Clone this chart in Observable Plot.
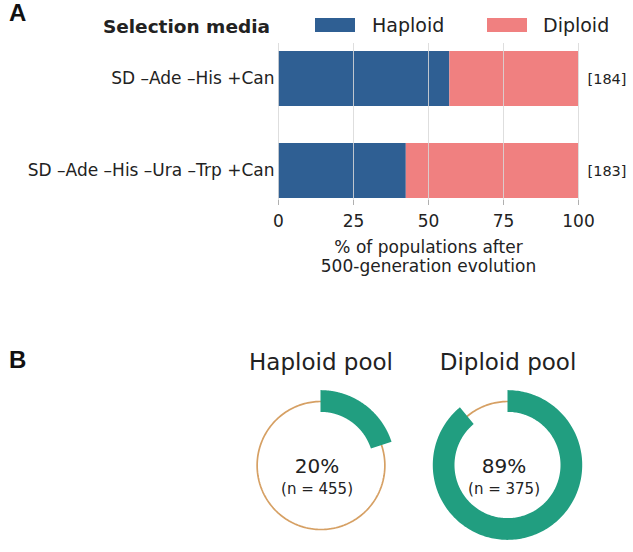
<!DOCTYPE html>
<html>
<head>
<meta charset="utf-8">
<script src="https://cdn.jsdelivr.net/npm/d3@7"></script>
<script src="https://cdn.jsdelivr.net/npm/@observablehq/plot@0.6"></script>
<style>
  html, body { margin: 0; padding: 0; background: #fff; }
  #wrap { position: relative; width: 633px; height: 552px; background: #fff; overflow: hidden; font-family: "DejaVu Sans", sans-serif; color: #222; }
  .abs { position: absolute; white-space: nowrap; }
  .panel { font-family: "Liberation Sans", Arial, sans-serif; font-weight: bold; font-size: 24px; line-height: 24px; color: #111; }
</style>
</head>
<body>
<div id="wrap"></div>
<script>
// ---------- data ----------
const media = ["SD –Ade –His +Can", "SD –Ade –His –Ura –Trp +Can"];
const ploidy = ["Haploid", "Diploid"];
const haploidPct = [57.1, 42.6];
const diploidPct = [42.9, 57.4];
const counts = [184, 183];
const xTicks = [0, 25, 50, 75, 100];
const axisTitle = "% of populations after\n500-generation evolution";
const legendTitle = "Selection media";

const pools = ["Haploid pool", "Diploid pool"];
const poolPct = [20, 89];
const poolN = [455, 375];

// ---------- styles ----------
const ploidyColors = ["#2f5f93", "#f08080"];
const ringColor = "#219e80";
const circleColor = "#d6a064";
const textColor = "#222";

const wrap = document.getElementById("wrap");

// ---------- Panel A ----------
const rowsA = media.flatMap((m, i) => [
  {media: m, type: ploidy[0], value: haploidPct[i]},
  {media: m, type: ploidy[1], value: diploidPct[i]}
]);
const countRows = media.map((m, i) => ({media: m, label: `[${counts[i]}]`}));

const plotA = Plot.plot({
  width: 633, height: 290,
  marginLeft: 278, marginRight: 55, marginTop: 43, marginBottom: 90,
  style: {fontFamily: "DejaVu Sans", fontSize: "17px", color: textColor, background: "transparent", overflow: "visible"},
  x: {domain: [0, 100], axis: null},
  y: {domain: media, axis: null, paddingInner: 0.397, paddingOuter: 0, insetTop: 7, insetBottom: 1},
  color: {domain: ploidy, range: ploidyColors},
  marks: [
    Plot.barX(rowsA, Plot.stackX({x: "value", y: "media", fill: "type"})),
    Plot.gridX(xTicks, {stroke: "#d8d8d8", strokeOpacity: 0.85, strokeWidth: 1}),
    Plot.axisX(xTicks, {tickSize: 5, tickPadding: 9, stroke: "#b0b0b0", fill: textColor, fontSize: 17, label: null}),
    Plot.axisY({tickSize: 0, tickPadding: 4, fill: textColor, fontSize: 17, label: null}),
    Plot.text(countRows, {y: "media", text: "label", frameAnchor: "right", dx: 9, textAnchor: "start", fontSize: 14.5, fill: textColor}),
    Plot.text([axisTitle], {text: d => d, frameAnchor: "bottom", lineAnchor: "middle", dy: 56, lineHeight: 1.08, fontSize: 17, fill: textColor})
  ]
});
plotA.style.position = "absolute";
plotA.style.left = "0px";
plotA.style.top = "0px";
wrap.appendChild(plotA);

// legend (HTML, above panel A)
function addDiv(html, css, cls = "abs") {
  const d = document.createElement("div");
  d.className = cls;
  d.innerHTML = html;
  Object.assign(d.style, css);
  wrap.appendChild(d);
  return d;
}
addDiv(legendTitle, {right: "363px", top: "17px", fontWeight: "bold", fontSize: "18.5px", lineHeight: "20px"});
const swatchLeft = [315, 487];
const labelLeft = [372, 543];
ploidy.forEach((p, i) => {
  addDiv("", {left: swatchLeft[i] + "px", top: "18px", width: "40px", height: "14px", background: ploidyColors[i]});
  addDiv(p, {left: labelLeft[i] + "px", top: "13.5px", fontSize: "19px", lineHeight: "22px"});
});
addDiv("A", {left: "9px", top: "1px"}, "abs panel");
addDiv("B", {left: "9px", top: "348px"}, "abs panel");

// ---------- Panel B ----------
const N = 240;
const rInner = 0.83, rOuter = 1.17;
const poolRows = pools.map((p, i) => ({pool: p, pct: poolPct[i], n: poolN[i]}));
const circlePts = pools.flatMap(p => d3.range(N + 1).map(k => ({pool: p, t: k / N * 2 * Math.PI})));
const ringPts = pools.flatMap((p, i) => d3.range(N + 1).map(k => ({pool: p, t: k / N * poolPct[i] / 100 * 2 * Math.PI})));

const halfW = 93.7 / 64;
const plotB = Plot.plot({
  width: 633, height: 262,
  marginLeft: 226.6, marginRight: 31.6, marginTop: 111, marginBottom: 23,
  style: {fontFamily: "DejaVu Sans", color: textColor, background: "transparent", overflow: "visible"},
  fx: {domain: pools, padding: 0, axis: null},
  x: {domain: [-halfW, halfW], axis: null},
  y: {domain: [-1, 1], axis: null},
  marks: [
    Plot.line(circlePts, {fx: "pool", x: d => Math.sin(d.t), y: d => Math.cos(d.t), stroke: circleColor, strokeWidth: 1.7}),
    Plot.area(ringPts, {
      fx: "pool",
      x1: d => rInner * Math.sin(d.t), y1: d => rInner * Math.cos(d.t),
      x2: d => rOuter * Math.sin(d.t), y2: d => rOuter * Math.cos(d.t),
      fill: ringColor
    }),
    Plot.text(poolRows, {fx: "pool", text: "pool", frameAnchor: "top", lineAnchor: "middle", dy: -39, fontSize: 23, fill: textColor}),
    Plot.text(poolRows, {fx: "pool", text: d => `${d.pct}%`, frameAnchor: "middle", lineAnchor: "middle", dx: -4, dy: 1, fontSize: 20, fill: textColor}),
    Plot.text(poolRows, {fx: "pool", text: d => `(n = ${d.n})`, frameAnchor: "middle", lineAnchor: "middle", dx: -4, dy: 24, fontSize: 15, fill: textColor})
  ]
});
plotB.style.position = "absolute";
plotB.style.left = "0px";
plotB.style.top = "290px";
wrap.appendChild(plotB);
</script>
</body>
</html>
